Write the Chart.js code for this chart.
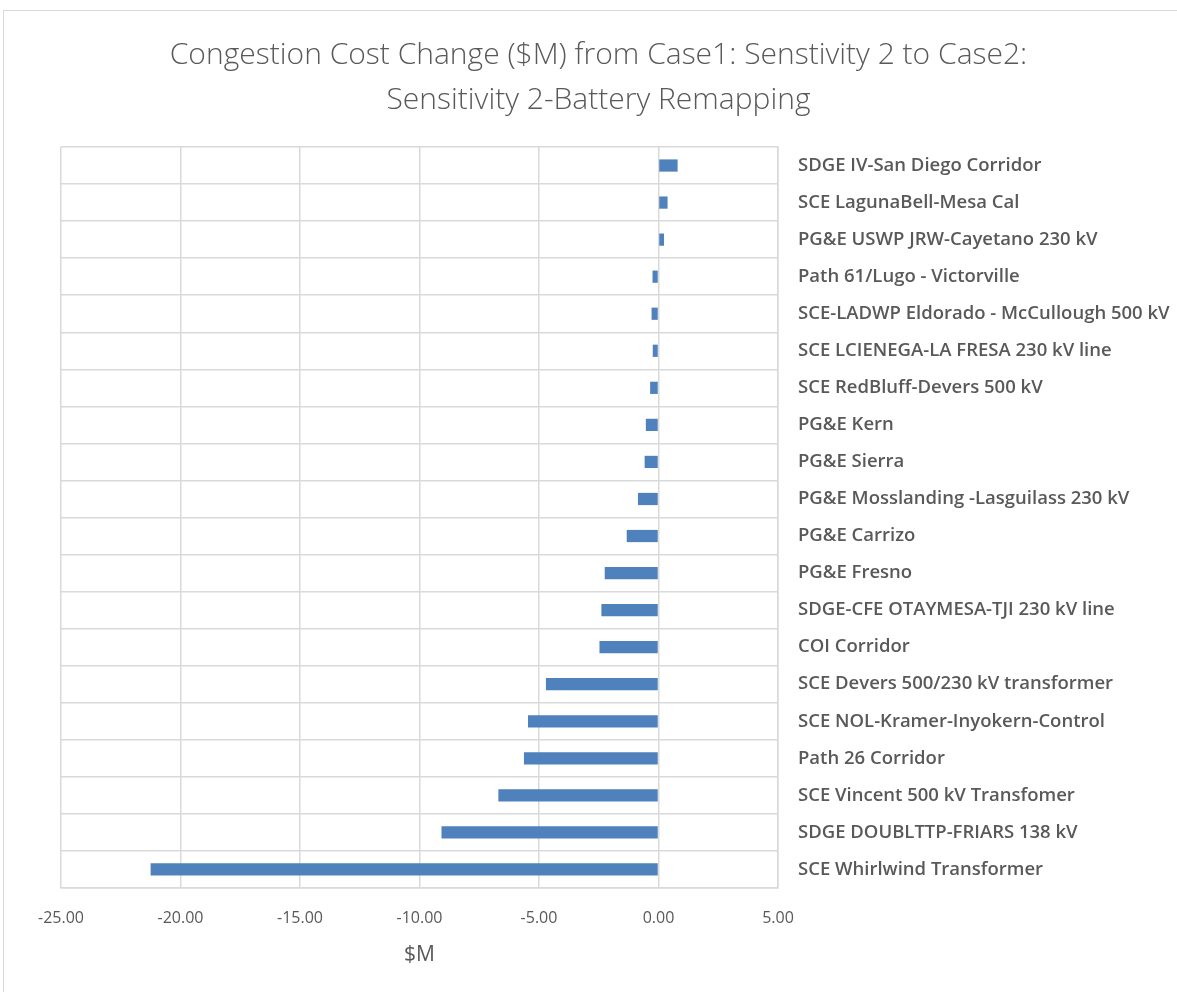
<!DOCTYPE html>
<html>
<head>
<meta charset="utf-8">
<script src="https://cdn.jsdelivr.net/npm/chart.js@4/dist/chart.umd.min.js"></script>
<style>
  html, body { margin: 0; padding: 0; background: #fff; }
  #wrap { position: relative; width: 1177px; height: 992px; overflow: hidden; }
  #frame { position: absolute; left: 3px; top: 10px; width: 1200px; height: 1000px; border: 1px solid #d9d9d9; box-sizing: border-box; }
  canvas { position: absolute; left: 0; top: 0; }
</style>
</head>
<body>
<div id="wrap">
  <div id="frame"></div>
  <canvas id="c" width="1177" height="992"></canvas>
</div>
<script>
const categories = [
  "SDGE IV-San Diego Corridor",
  "SCE LagunaBell-Mesa Cal",
  "PG&E USWP JRW-Cayetano 230 kV",
  "Path 61/Lugo - Victorville",
  "SCE-LADWP Eldorado - McCullough 500 kV",
  "SCE LCIENEGA-LA FRESA 230 kV line",
  "SCE RedBluff-Devers 500 kV",
  "PG&E Kern",
  "PG&E Sierra",
  "PG&E Mosslanding -Lasguilass 230 kV",
  "PG&E Carrizo",
  "PG&E Fresno",
  "SDGE-CFE OTAYMESA-TJI 230 kV line",
  "COI Corridor",
  "SCE Devers 500/230 kV transformer",
  "SCE NOL-Kramer-Inyokern-Control",
  "Path 26 Corridor",
  "SCE Vincent 500 kV Transfomer",
  "SDGE DOUBLTTP-FRIARS 138 kV",
  "SCE Whirlwind Transformer"
];
const costChange = [
  0.80, 0.38, 0.23, -0.25, -0.29, -0.24, -0.35, -0.53, -0.58, -0.86,
  -1.33, -2.25, -2.39, -2.47, -4.71, -5.46, -5.63, -6.70, -9.08, -21.25
];
const xTicks = [-25, -20, -15, -10, -5, 0, 5];

const TXT = '#595959';
const GRID = '#d9d9d9';
const FONT = "'Open Sans', 'DejaVu Sans', sans-serif";

new Chart(document.getElementById('c'), {
  type: 'bar',
  data: {
    labels: categories,
    datasets: [{
      data: costChange,
      backgroundColor: '#4f81bd',
      borderWidth: 0,
      barPercentage: 0.33,
      categoryPercentage: 1.0
    }]
  },
  options: {
    indexAxis: 'y',
    responsive: false,
    animation: false,
    layout: { padding: { top: 10, left: 20, right: 0, bottom: 0 } },
    plugins: {
      legend: { display: false },
      tooltip: { enabled: false },
      title: {
        display: true,
        text: ["Congestion Cost Change ($M) from Case1: Senstivity 2 to Case2:", "Sensitivity 2-Battery Remapping"],
        color: TXT,
        font: { family: FONT, size: 30, weight: 300, lineHeight: 1.5 },
        padding: { top: 23, bottom: 24 }
      }
    },
    scales: {
      x: {
        type: 'linear',
        min: -25, max: 5,
        afterBuildTicks: (s) => { s.ticks = xTicks.map(v => ({ value: v })); },
        afterFit: (s) => { s.height = 104; },
        grid: { color: GRID, lineWidth: 1.5, drawTicks: false },
        border: { color: GRID, width: 1.5 },
        ticks: {
          color: TXT,
          font: { family: FONT, size: 16 },
          padding: 21,
          callback: (v) => Number(v).toFixed(2)
        },
        title: {
          display: true,
          text: '$M',
          color: TXT,
          font: { family: FONT, size: 21 },
          padding: { top: 0, bottom: 24 }
        }
      },
      y: {
        position: 'right',
        afterFit: (s) => { s.width = 399; },
        grid: { color: GRID, lineWidth: 1.5, drawTicks: false, offset: true },
        border: { color: GRID, width: 1.5 },
        ticks: {
          color: TXT,
          font: { family: FONT, size: 18.5, weight: '600' },
          padding: 20
        }
      },
      spacer: {
        type: 'category',
        position: 'left',
        axis: 'y',
        afterFit: (s) => { s.width = 41; },
        grid: { display: false, drawTicks: false },
        border: { display: false },
        ticks: { display: false }
      }
    }
  }
});
</script>
</body>
</html>
